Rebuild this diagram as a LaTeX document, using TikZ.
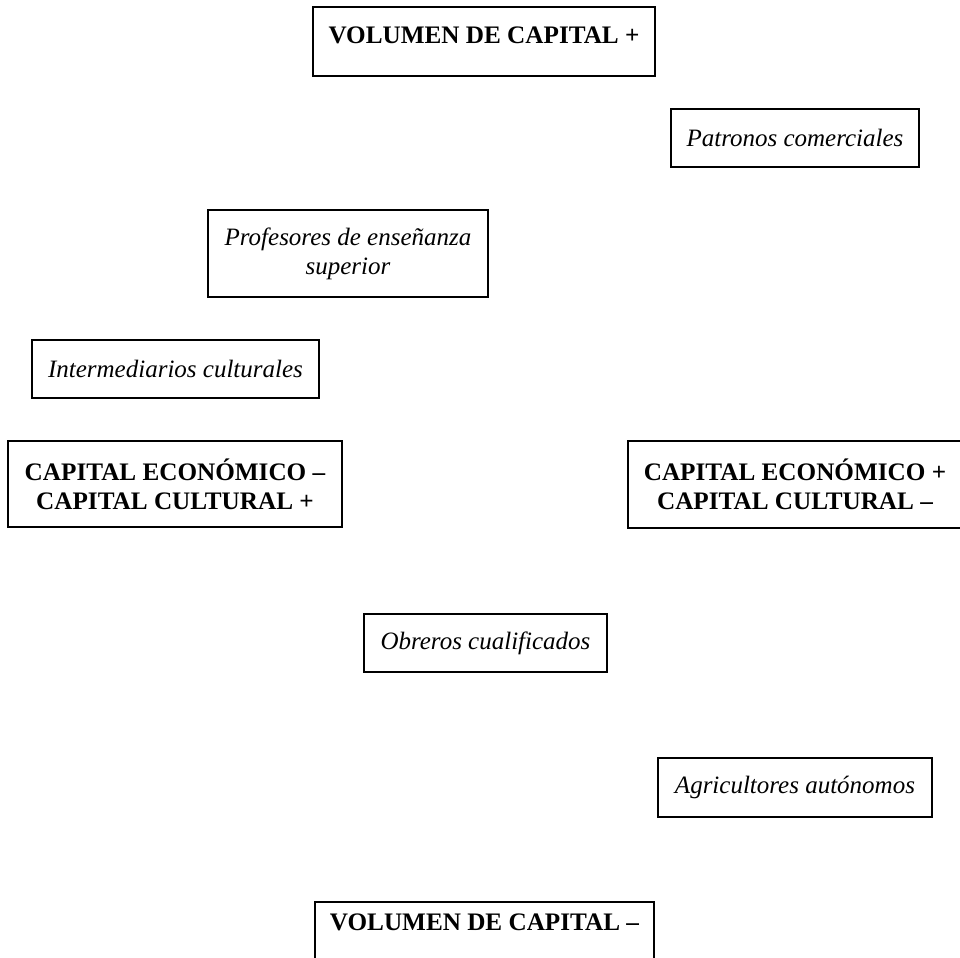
\documentclass[tikz,border=0pt]{standalone}
\usepackage{fontspec}
\setmainfont{Liberation Serif}
\begin{document}
\begin{tikzpicture}[x=0.5pt,y=-0.5pt,
	polo/.style={draw,line width=1.3pt,align=center,inner sep=0pt,font=\fontsize{12.6}{14.5}\selectfont\bfseries},
	clase/.style={draw,line width=0.8pt,align=center,inner sep=0pt,font=\fontsize{12.5}{14.5}\selectfont\itshape}]
		\useasboundingbox (0,0) rectangle (960,958);
		\node[polo,minimum width=171pt,minimum height=34.5pt,text depth=6pt] (volmas) at (484,41.5) {VOLUMEN DE CAPITAL +};
		\node[polo,minimum width=169.5pt,minimum height=34.5pt,text depth=14pt] (volmenos) at (484.5,936.5) {VOLUMEN DE CAPITAL –};
		\node[polo,minimum width=167pt,minimum height=43pt] (ecomenos) at (175,484) {CAPITAL ECONÓMICO –\\CAPITAL CULTURAL +};
		\node[polo,minimum width=167pt,minimum height=43.5pt] (ecomas) at (795,484.5) {CAPITAL ECONÓMICO +\\CAPITAL CULTURAL –};
		\node[clase,minimum width=124pt,minimum height=29pt] (patronos) at (795,138) {Patronos comerciales};
		\node[clase,minimum width=140pt,minimum height=43.5pt] (profesores) at (348,253.5) {Profesores de enseñanza\\superior};
		\node[clase,minimum width=143.5pt,minimum height=29pt] (intermed) at (175.5,369) {Intermediarios culturales};
		\node[clase,minimum width=121.5pt,minimum height=29pt] (obreros) at (485.5,643) {Obreros cualificados};
		\node[clase,minimum width=137pt,minimum height=29.5pt] (agricult) at (795,787.5) {Agricultores autónomos};
		\end{tikzpicture}
\end{document}
